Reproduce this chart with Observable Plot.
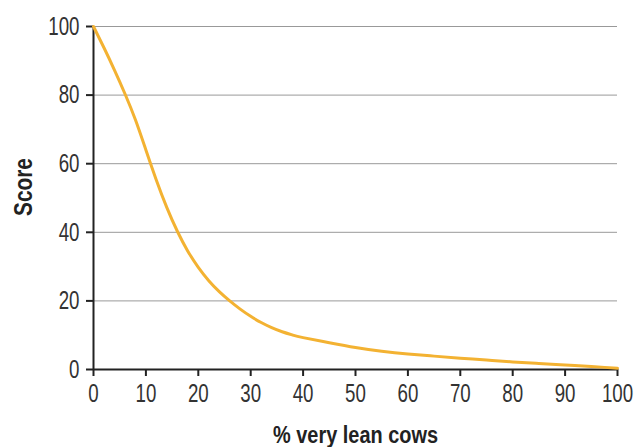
<!DOCTYPE html>
<html>
<head>
<meta charset="utf-8">
<script src="https://cdn.jsdelivr.net/npm/d3@7"></script>
<script src="https://cdn.jsdelivr.net/npm/@observablehq/plot@0.6"></script>
<style>
  body { margin: 0; background: #fff; }
  svg { display: block; }
</style>
</head>
<body>
<div id="chart"></div>
<script>
const leanPct = [0, 2, 4, 6, 8, 10, 12, 14, 16, 18, 20, 22, 24, 26, 28, 30, 32, 34, 36, 38, 40, 45, 50, 55, 60, 65, 70, 75, 80, 85, 90, 95, 100];
const score   = [100, 93.8, 87.3, 80.4, 72.8, 64, 55.2, 47.2, 40.3, 34.5, 29.8, 25.9, 22.7, 20, 17.6, 15.5, 13.7, 12.2, 11, 10.05, 9.3, 7.8, 6.4, 5.3, 4.5, 3.9, 3.3, 2.75, 2.2, 1.75, 1.3, 0.85, 0.4];
const xTicks = [0, 10, 20, 30, 40, 50, 60, 70, 80, 90, 100];
const yTicks = [0, 20, 40, 60, 80, 100];
const xTitle = "% very lean cows";
const yTitle = "Score";

const data = leanPct.map((x, i) => ({x, y: score[i]}));
const font = "'Liberation Sans', Arial, sans-serif";

const chart = Plot.plot({
  width: 636,
  height: 447,
  marginLeft: 93,
  marginRight: 19,
  marginTop: 26,
  marginBottom: 78,
  style: {fontFamily: font, fontSize: "26px", color: "#333", background: "#fff"},
  x: {domain: [0, 100]},
  y: {domain: [0, 100]},
  marks: [
    Plot.gridY(yTicks.filter(d => d > 0), {stroke: "#999", strokeOpacity: 1, strokeWidth: 1}),
    Plot.axisX({ticks: xTicks, tickSize: 7, tickPadding: 7, tickFormat: d => String(d),
      stroke: "#222", strokeWidth: 2, fontSize: 26, label: null}),
    Plot.axisY({ticks: yTicks, tickSize: 7, tickPadding: 7, tickFormat: d => String(d),
      stroke: "#222", strokeWidth: 2, fontSize: 26, label: null}),
    Plot.ruleX([0], {stroke: "#222", strokeWidth: 2}),
    Plot.ruleY([0], {stroke: "#222", strokeWidth: 2}),
    Plot.line(data, {x: "x", y: "y", stroke: "#f3b232", strokeWidth: 3, curve: "natural"}),
    Plot.text([xTitle], {frameAnchor: "bottom", textAnchor: "middle", lineAnchor: "bottom", dy: 73,
      fontSize: 24, fontWeight: "bold", fill: "#222", fontFamily: font, ariaDescription: "x-title"}),
    Plot.text([yTitle], {frameAnchor: "left", textAnchor: "middle", dx: -70, dy: -11, rotate: -90,
      fontSize: 26, fontWeight: "bold", fill: "#222", fontFamily: font, ariaDescription: "y-title"})
  ]
});

// emulate the condensed typeface of the original by narrowing glyphs horizontally
function condense(selector, s) {
  chart.querySelectorAll(selector).forEach(t => {
    const tr = t.getAttribute("transform") || "";
    t.setAttribute("transform", (tr + ` scale(${s},1)`).trim());
  });
}
condense("g[aria-label='x-axis tick label'] text", 0.72);
condense("g[aria-label='y-axis tick label'] text", 0.72);
condense("g[aria-description='x-title'] text", 0.83);
condense("g[aria-description='y-title'] text", 0.8);

document.getElementById("chart").appendChild(chart);
</script>
</body>
</html>
